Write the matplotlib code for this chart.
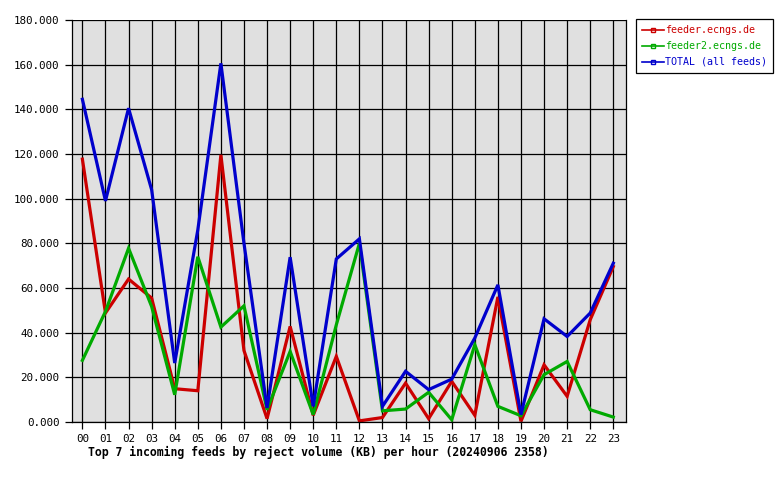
import numpy as np
import matplotlib
matplotlib.use('Agg')
from matplotlib import pyplot as plt
from matplotlib.lines import Line2D

# hours and per-hour reject volume (KB)
hours = ['%02d' % h for h in range(24)]
feeder = [117.7, 48.8, 64.0, 55.5, 14.9, 14.0, 119.6, 32.0, 1.5, 42.8, 3.0, 29.4,
          0.5, 2.0, 17.4, 1.5, 18.2, 3.0, 56.0, 0.3, 25.6, 11.5, 45.8, 69.6]
feeder2 = [27.6, 49.5, 77.8, 51.7, 12.2, 74.0, 42.5, 52.0, 5.5, 31.6, 3.3, 43.5,
           80.0, 5.0, 5.8, 13.3, 1.0, 34.6, 7.0, 2.8, 21.2, 27.1, 5.5, 2.2]
total = [144.5, 99.0, 140.5, 104.0, 26.4, 86.0, 160.6, 80.0, 6.3, 73.8, 7.0, 73.0,
         82.0, 7.0, 22.7, 14.5, 19.2, 37.6, 61.4, 3.3, 46.2, 38.3, 48.8, 71.1]
names = ['feeder.ecngs.de', 'feeder2.ecngs.de', 'TOTAL (all feeds)']
colors = ['#cc0000', '#00aa00', '#0000cc']
title = 'Top 7 incoming feeds by reject volume (KB) per hour (20240906 2358)'

plt.rcParams['font.family'] = ['DejaVu Sans Mono']

fig = plt.figure(figsize=(7.8, 4.8), dpi=100)
ax = fig.add_axes([72 / 780, 58 / 480, 554 / 780, 402 / 480])
ax.set_facecolor('#e0e0e0')

x = np.arange(len(hours))
for series, c in zip([feeder, feeder2, total], colors):
    ax.plot(x, series, color=c, lw=2.3, solid_joinstyle='miter')

ax.set_xlim(-0.45, 23.55)
ax.set_ylim(0, 180)
ax.set_xticks(x)
ax.set_xticklabels(hours)
ax.set_yticks(np.arange(0, 181, 20))
ax.set_yticklabels(['%.3f' % v for v in np.arange(0, 181, 20)])
ax.grid(True, color='black', lw=0.9)
ax.set_axisbelow(True)
ax.tick_params(direction='out', length=5, width=0.9, labelsize=7.8,
               colors='black', pad=4)
for sp in ax.spines.values():
    sp.set_linewidth(0.9)
ax.spines['top'].set_visible(False)

fig.text(88 / 780, 1 - 452 / 480, title, fontsize=8.3, fontweight='bold',
         va='center', ha='left')

handles = [Line2D([0], [0], color=c, lw=1.2, marker='s', markersize=2.5,
                  markerfacecolor='none', markeredgecolor=c) for c in colors]
leg = fig.legend(handles, names, loc='upper left',
                 bbox_to_anchor=(636 / 780, 1 - 19 / 480), fancybox=False,
                 edgecolor='black', framealpha=1, prop={'size': 7.2},
                 handlelength=2.2, handletextpad=0.1, borderpad=0.6,
                 labelspacing=0.6, borderaxespad=0, numpoints=1)
leg.get_frame().set_linewidth(0.9)
for t, c in zip(leg.get_texts(), colors):
    t.set_color(c)

fig.savefig('out.png', dpi=100)
